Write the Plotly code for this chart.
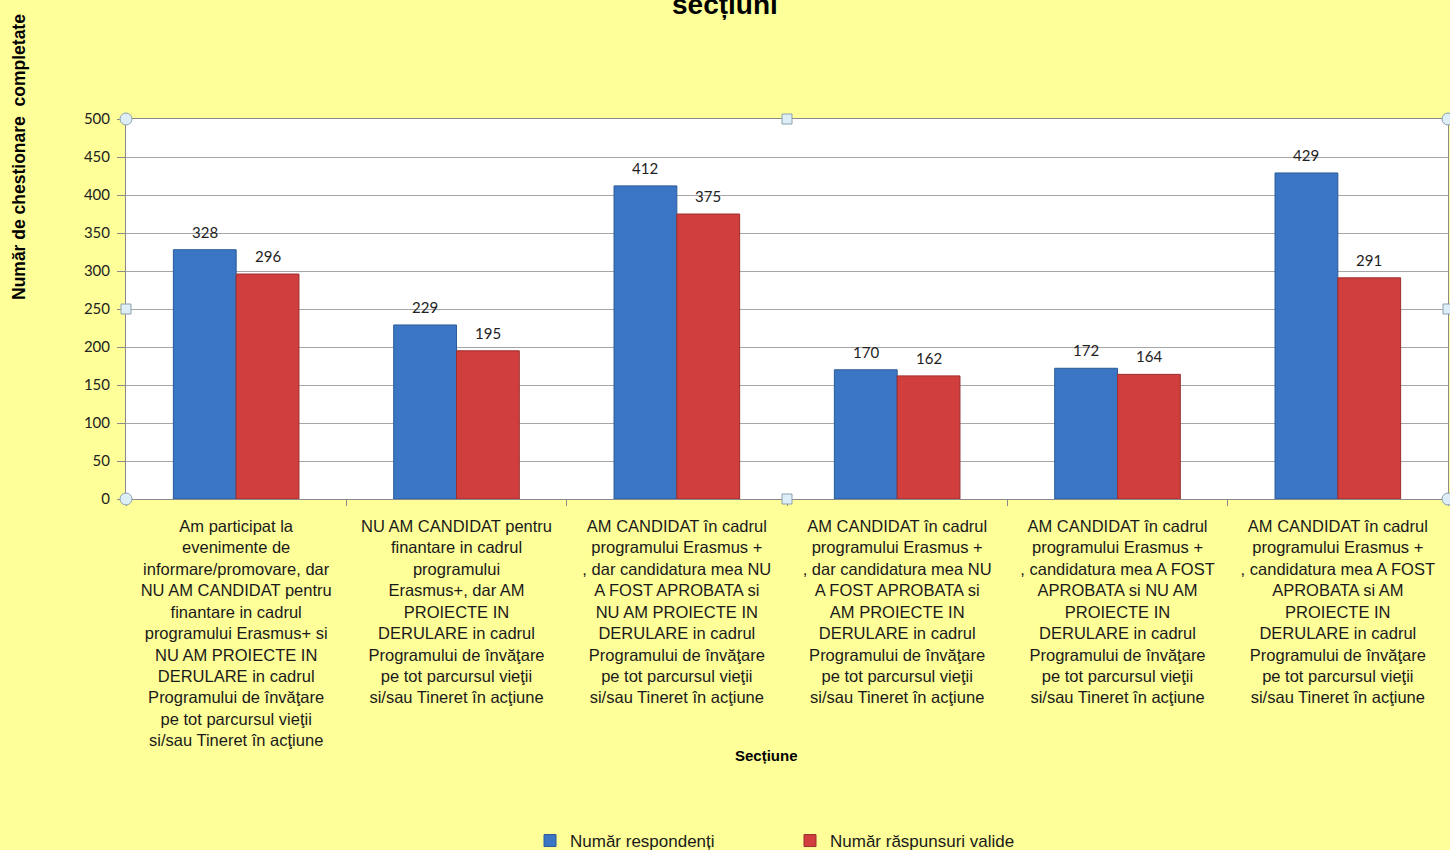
import plotly.graph_objects as go

categories = [
    "Am participat la\nevenimente de\ninformare/promovare, dar\nNU AM CANDIDAT pentru\nfinantare in cadrul\nprogramului Erasmus+ si\nNU AM PROIECTE IN\nDERULARE in cadrul\nProgramului de învăţare\npe tot parcursul vieţii\nsi/sau Tineret în acţiune",
    "NU AM CANDIDAT pentru\nfinantare in cadrul\nprogramului\nErasmus+, dar AM\nPROIECTE IN\nDERULARE in cadrul\nProgramului de învăţare\npe tot parcursul vieţii\nsi/sau Tineret în acţiune",
    "AM CANDIDAT în cadrul\nprogramului Erasmus +\n, dar candidatura mea NU\nA FOST APROBATA si\nNU AM PROIECTE IN\nDERULARE in cadrul\nProgramului de învăţare\npe tot parcursul vieţii\nsi/sau Tineret în acţiune",
    "AM CANDIDAT în cadrul\nprogramului Erasmus +\n, dar candidatura mea NU\nA FOST APROBATA si\nAM PROIECTE IN\nDERULARE in cadrul\nProgramului de învăţare\npe tot parcursul vieţii\nsi/sau Tineret în acţiune",
    "AM CANDIDAT în cadrul\nprogramului Erasmus +\n, candidatura mea A FOST\nAPROBATA si NU AM\nPROIECTE IN\nDERULARE in cadrul\nProgramului de învăţare\npe tot parcursul vieţii\nsi/sau Tineret în acţiune",
    "AM CANDIDAT în cadrul\nprogramului Erasmus +\n, candidatura mea A FOST\nAPROBATA si AM\nPROIECTE IN\nDERULARE in cadrul\nProgramului de învăţare\npe tot parcursul vieţii\nsi/sau Tineret în acţiune",
]
respondenti = [328, 229, 412, 170, 172, 429]
raspunsuri_valide = [296, 195, 375, 162, 164, 291]
series_names = ["Număr respondenți", "Număr răspunsuri valide"]
y_ticks = [0, 50, 100, 150, 200, 250, 300, 350, 400, 450, 500]

title_text = "secțiuni"
y_title = "Număr de chestionare  completate"
x_title = "Secțiune"

labels = [c.replace("\n", "<br>") for c in categories]

BARGAP = 0.43
half_bar = (1 - BARGAP) / 4  # offset of each bar centre from category centre

fig = go.Figure()
fig.add_trace(go.Bar(
    x=labels, y=respondenti, name=series_names[0],
    marker=dict(color="#3B76C4", line=dict(color="#2A5A98", width=1)),
))
fig.add_trace(go.Bar(
    x=labels, y=raspunsuri_valide, name=series_names[1],
    marker=dict(color="#D03F3E", line=dict(color="#9C2D2C", width=1)),
))

annotations = []
for series, sign in ((respondenti, -1), (raspunsuri_valide, 1)):
    for i, v in enumerate(series):
        annotations.append(dict(
            x=i + sign * half_bar, y=v, xref="x", yref="y", text=str(v),
            showarrow=False, yanchor="bottom", yshift=7,
            font=dict(family="Lato, Carlito, Arial", size=15, color="#222222"),
        ))

annotations += [
    dict(text="<b>" + title_text + "</b>", xref="paper", yref="paper",
         x=(725 - 126) / 1322, y=(499 - 5) / 380, xanchor="center", yanchor="middle",
         showarrow=False, font=dict(family="Liberation Sans, Arial", size=28, color="#000000")),
    dict(text="<b>" + y_title + "</b>", xref="paper", yref="paper",
         x=(19 - 126) / 1322, y=(499 - 157) / 380, xanchor="center", yanchor="middle",
         textangle=-90, showarrow=False,
         font=dict(family="Liberation Sans, Arial", size=17.5, color="#000000")),
    dict(text="<b>" + x_title + "</b>", xref="paper", yref="paper",
         x=(766 - 126) / 1322, y=(499 - 755) / 380, xanchor="center", yanchor="middle",
         showarrow=False, font=dict(family="Liberation Sans, Arial", size=15, color="#000000")),
]

fig.update_layout(
    width=1450, height=850,
    margin=dict(l=126, r=2, t=119, b=351, autoexpand=False),
    paper_bgcolor="#FFFF99",
    plot_bgcolor="#FFFFFF",
    barmode="group", bargap=BARGAP, bargroupgap=0,
    font=dict(family="Liberation Sans, Arial", size=16, color="#1A1A1A"),
    showlegend=True,
    legend=dict(
        orientation="h", xref="container", yref="container",
        x=530 / 1450, y=1 - 841 / 850,
        xanchor="left", yanchor="middle",
        entrywidth=215, entrywidthmode="pixels",
        font=dict(family="Liberation Sans, Arial", size=17, color="#1A1A1A"),
        bgcolor="rgba(0,0,0,0)",
    ),
    xaxis=dict(
        showline=True, linecolor="#8A8A8A", linewidth=1, mirror=True,
        ticks="outside", tickson="boundaries", ticklen=6, tickcolor="#8A8A8A",
        ticklabelstandoff=12, automargin=False,
        tickfont=dict(family="Liberation Sans, Arial", size=16.5, color="#1A1A1A"),
        tickangle=0, showgrid=False,
    ),
    yaxis=dict(
        range=[0, 500], tickvals=y_ticks, showline=True, linecolor="#8A8A8A",
        linewidth=1, mirror=True, ticks="outside", ticklen=8, tickcolor="#8A8A8A",
        ticklabelstandoff=4, automargin=False,
        gridcolor="#A6A6A6", gridwidth=1, zeroline=False,
        tickfont=dict(family="Lato, Carlito, Arial", size=15, color="#222222"),
    ),
    annotations=annotations,
)

# selection handles around the plot area
handles = [(0, 1, "circle"), (1, 1, "circle"), (0, 0, "circle"), (1, 0, "circle"),
           (0.5, 1, "rect"), (0.5, 0, "rect"), (0, 0.5, "rect"), (1, 0.5, "rect")]
for hx, hy, kind in handles:
    s = 6 if kind == "circle" else 5
    fig.add_shape(type=kind, xref="paper", yref="paper", xanchor=hx, yanchor=hy,
                  xsizemode="pixel", ysizemode="pixel", x0=-s, x1=s, y0=-s, y1=s,
                  fillcolor="#DDEEF6", line=dict(color="#8CA0B0", width=1), layer="above")

fig.write_html("out.html", config={"displayModeBar": False},
               post_script="document.body.style.margin='0';document.body.style.overflow='hidden';")
